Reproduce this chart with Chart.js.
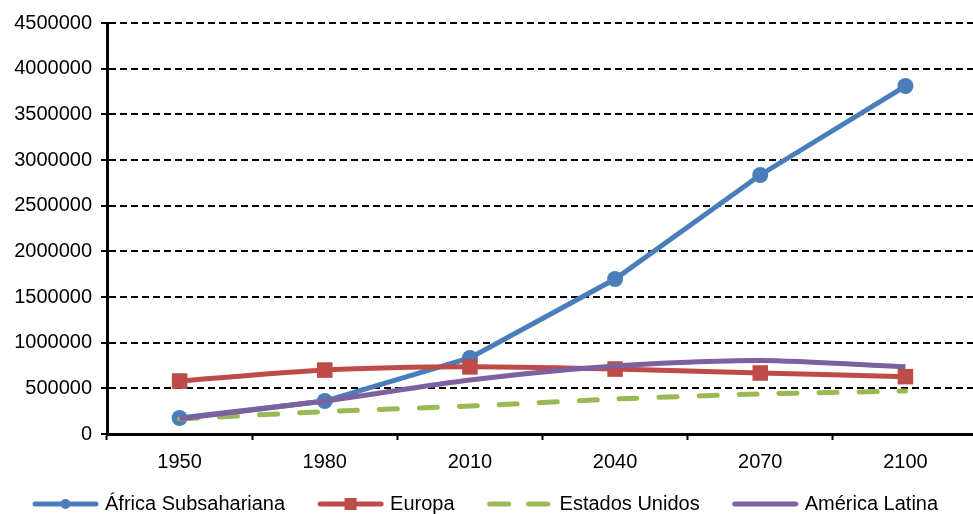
<!DOCTYPE html>
<html>
<head>
<meta charset="utf-8">
<script src="https://cdn.jsdelivr.net/npm/chart.js@4.4.1/dist/chart.umd.min.js"></script>
<style>
  html, body { margin: 0; padding: 0; background: #fff; overflow: hidden; }
  #chart { display: block; }
</style>
</head>
<body>
<canvas id="chart" width="989" height="524" style="width:989px;height:524px"></canvas>
<script>
// data
const years = ["1950", "1980", "2010", "2040", "2070", "2100"];
const africa = [175000, 361000, 832000, 1697000, 2836000, 3810000];
const europa = [580000, 700000, 735000, 711000, 668000, 628000];
const estadosUnidos = [165000, 245000, 306000, 383000, 438000, 471000];
const americaLatina = [167000, 361000, 591000, 745000, 805000, 735000];
const yTicks = [0, 500000, 1000000, 1500000, 2000000, 2500000, 3000000, 3500000, 4000000, 4500000];

const BLUE = "#4A7EBB", RED = "#BE4B48", GREEN = "#98B954", PURPLE = "#7D60A0";
const FONT = "'Liberation Sans', Arial, sans-serif";

// legend icons: blank lead-in (item spacing) + line with marker, like the spreadsheet legend
const ICON_LEAD = 26;
function makeIcon(color, kind) {
    const c = document.createElement("canvas");
    c.width = ICON_LEAD + 67; c.height = 16;
    const g = c.getContext("2d");
    g.translate(ICON_LEAD, 0);
    g.strokeStyle = color; g.fillStyle = color;
    g.lineWidth = 5; g.lineCap = "round";
    g.beginPath();
    if (kind === "dash") {
        g.moveTo(3, 8); g.lineTo(22, 8);
        g.moveTo(42, 8); g.lineTo(61, 8);
    } else {
        g.moveTo(3, 8); g.lineTo(64, 8);
    }
    g.stroke();
    if (kind === "circle") {
        g.beginPath(); g.arc(33.5, 8, 5, 0, Math.PI * 2); g.fill();
    } else if (kind === "rect") {
        g.fillRect(27.5, 2, 12, 12);
    }
    return c;
}

const icons = [makeIcon(BLUE, "circle"), makeIcon(RED, "rect"), makeIcon(GREEN, "dash"), makeIcon(PURPLE, "line")];

// keep the legend box short so the axis labels keep their room
const legendHeight = {
    id: "legendHeight",
    beforeInit(chart) {
        const lg = chart.legend;
        if (!lg) return;
        const fit = lg.fit;
        lg.fit = function () { fit.call(this); this.height = 40; };
    },
};

const chart = new Chart(document.getElementById("chart"), {
    type: "line",
    data: {
        labels: years,
        datasets: [
            {
                label: "África Subsahariana",
                data: africa,
                borderColor: BLUE,
                backgroundColor: BLUE,
                borderWidth: 5,
                pointStyle: "circle",
                pointRadius: 8,
                pointBorderWidth: 0,
                tension: 0,
                order: 4,
            },
            {
                label: "Europa",
                data: europa,
                borderColor: RED,
                backgroundColor: RED,
                borderWidth: 5,
                pointStyle: "rect",
                pointRadius: 11,
                pointBorderWidth: 0,
                tension: 0.25,
                order: 3,
            },
            {
                label: "Estados Unidos",
                data: estadosUnidos,
                borderColor: GREEN,
                backgroundColor: GREEN,
                borderWidth: 5,
                borderDash: [18, 22],
                borderCapStyle: "round",
                pointRadius: 0,
                tension: 0.25,
                order: 2,
            },
            {
                label: "América Latina",
                data: americaLatina,
                borderColor: PURPLE,
                backgroundColor: PURPLE,
                borderWidth: 5,
                pointRadius: 0,
                tension: 0.25,
                order: 1,
            },
        ],
    },
    options: {
        responsive: false,
        animation: false,
        devicePixelRatio: 1,
        layout: { padding: { top: 23, right: 2, left: 0, bottom: 0 } },
        scales: {
            x: {
                offset: true,
                afterFit: (s) => { s.height = 50; },
                grid: {
                    offset: true,
                    drawOnChartArea: false,
                    drawTicks: true,
                    tickLength: 6,
                    tickColor: "#000",
                    tickWidth: 2,
                },
                border: { display: true, color: "#000", width: 3 },
                ticks: {
                    color: "#000",
                    font: { family: FONT, size: 20 },
                    padding: 10,
                    maxRotation: 0,
                },
            },
            y: {
                min: 0,
                max: 4500000,
                afterBuildTicks: (s) => { s.ticks = yTicks.map(v => ({ value: v })); },
                afterFit: (s) => { s.width = 107; },
                grid: {
                    color: "#000",
                    lineWidth: 2,
                    tickBorderDash: [],
                    tickLength: 6,
                    tickColor: "#000",
                    tickWidth: 2,
                },
                border: { display: true, color: "#000", width: 3, dash: [7, 4] },
                ticks: {
                    color: "#000",
                    font: { family: FONT, size: 20 },
                    padding: 9,
                    callback: (v) => String(v),
                },
            },
        },
        plugins: {
            tooltip: { enabled: false },
            legend: {
                display: true,
                position: "bottom",
                align: "start",
                labels: {
                    usePointStyle: true,
                    pointStyleWidth: ICON_LEAD + 67 - 8,
                    padding: 10,
                    color: "#000",
                    font: { family: FONT, size: 20 },
                    generateLabels: (c) => c.data.datasets.map((ds, i) => ({
                        text: ds.label,
                        pointStyle: icons[i],
                        fillStyle: "rgba(0,0,0,0)",
                        strokeStyle: "rgba(0,0,0,0)",
                        lineWidth: 0,
                        fontColor: "#000",
                        hidden: false,
                        datasetIndex: i,
                    })),
                },
            },
        },
    },
    plugins: [legendHeight],
});
</script>
</body>
</html>
